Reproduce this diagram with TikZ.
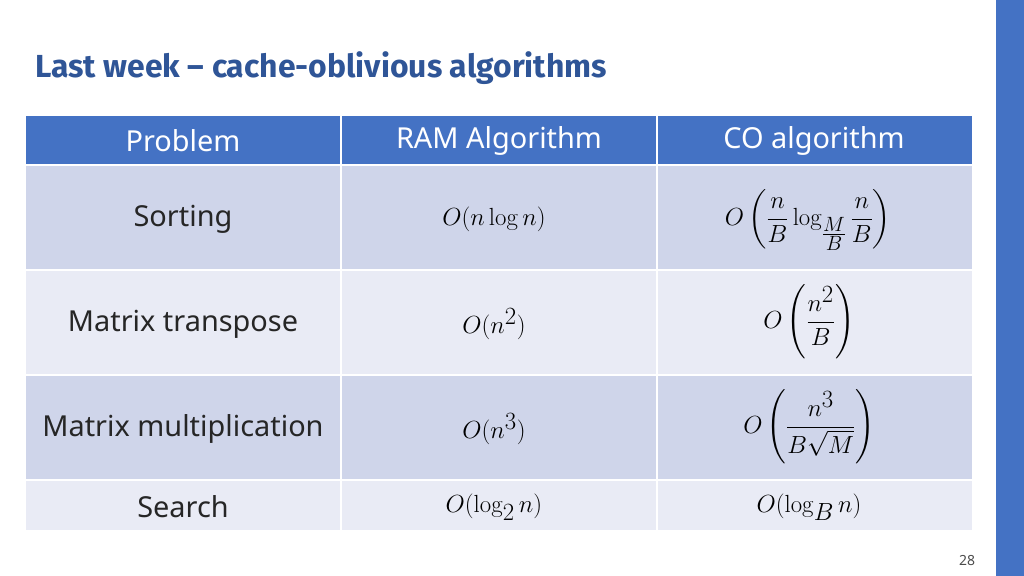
\documentclass[tikz,border=0pt]{standalone}
\usepackage{amsmath}
\usepackage[no-math]{fontspec}
\setmainfont{Noto Sans}
\newfontfamily\titlefont{Fira Sans}
\begin{document}
\begin{tikzpicture}[x=1bp,y=-1bp,
  cell/.style={font=\fontsize{29}{34}\selectfont,anchor=center,text=black!85},
  mcell/.style={font=\fontsize{40}{44}\selectfont,anchor=center},
  hdr/.style={font=\fontsize{29}{34}\selectfont,text=white,anchor=center}]
\definecolor{hblue}{HTML}{4472C4}
\definecolor{dband}{HTML}{CFD5EA}
\definecolor{lband}{HTML}{E9EBF5}
\definecolor{tblue}{HTML}{2F5597}
\useasboundingbox (0,0) rectangle (1024,576);
\fill[white] (0,0) rectangle (1024,576);
\fill[hblue] (996,0) rectangle (1024,576);
\node[anchor=west,font=\titlefont\fontsize{32}{36}\selectfont\bfseries,text=tblue,inner sep=0pt] (title) at (35,68) {Last week – cache-oblivious algorithms};
% table background
\fill[hblue] (26,116) rectangle (972,165);
\fill[dband] (26,165) rectangle (972,270);
\fill[lband] (26,270) rectangle (972,375);
\fill[dband] (26,375) rectangle (972,480);
\fill[lband] (26,480) rectangle (972,530);
\draw[white,line width=2bp] (26,165)--(972,165) (26,270)--(972,270) (26,375)--(972,375) (26,480)--(972,480)
  (341,116)--(341,530) (657,116)--(657,530);
\node[hdr] (h1) at (183,141) {Problem};
\node[hdr] (h2) at (499,141) {RAM Algorithm};
\node[hdr] (h3) at (814,141) {CO algorithm};
\node[cell] (a1) at (183,219) {Sorting};
\node[mcell] (b1) at (494,219) {$O(n\log n)$};
\node[mcell] (c1) at (808,220) {$O\left(\dfrac{n}{B}\log_{\frac{M}{B}}\dfrac{n}{B}\right)$};
\node[cell] (a2) at (183,324) {Matrix transpose};
\node[mcell] (b2) at (494,324) {$O(n^2)$};
\node[mcell] (c2) at (809,322) {$O\left(\dfrac{n^2}{B}\right)$};
\node[cell] (a3) at (183,429) {Matrix multiplication};
\node[mcell] (b3) at (494,429) {$O(n^3)$};
\node[mcell] (c3) at (809,427) {$O\left(\dfrac{n^3}{B\sqrt{M}}\right)$};
\node[cell] (a4) at (183,507) {Search};
\node[mcell] (b4) at (494,507) {$O(\log_2 n)$};
\node[mcell] (c4) at (809,507) {$O(\log_B n)$};
\node[font=\fontsize{14}{16}\selectfont,text=black!70] (pg) at (967,561) {28};
\end{tikzpicture}
\end{document}
